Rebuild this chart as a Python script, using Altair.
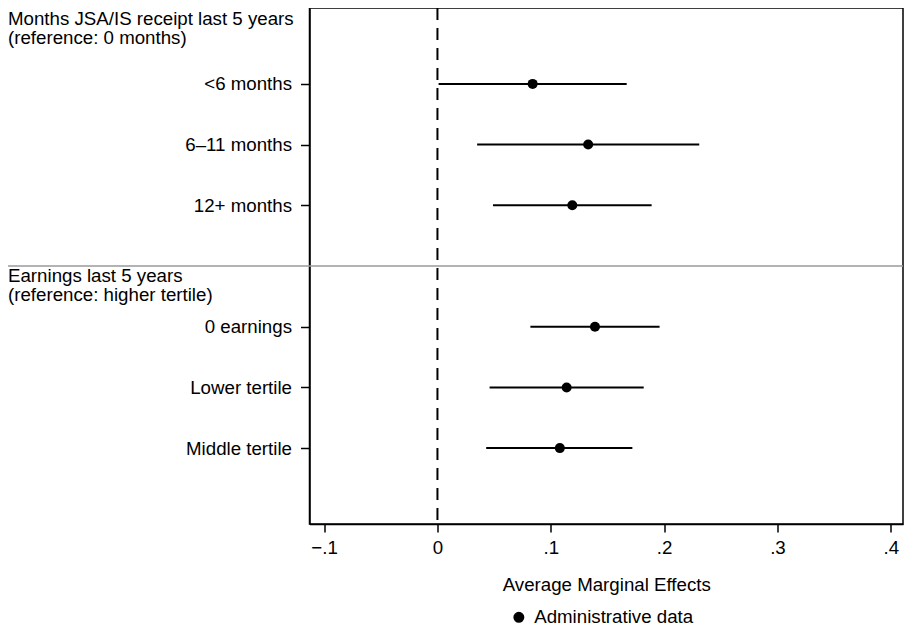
import altair as alt
import pandas as pd

# ---- data ----
categories = ["<6 months", "6\u201311 months", "12+ months", "0 earnings", "Lower tertile", "Middle tertile"]
slots = [1, 2, 3, 5, 6, 7]
estimates = [0.084, 0.133, 0.119, 0.139, 0.114, 0.108]
ci_low = [0.001, 0.035, 0.049, 0.082, 0.046, 0.043]
ci_high = [0.167, 0.231, 0.189, 0.196, 0.182, 0.172]
series_name = "Administrative data"

heading_1 = "Months JSA/IS receipt last 5 years\n(reference: 0 months)"
heading_2 = "Earnings last 5 years\n(reference: higher tertile)"
heading_slots = [0, 4]
separator_slots = [4]

x_ticks = [-0.1, 0, 0.1, 0.2, 0.3, 0.4]
x_tick_labels = ["\u2212.1", "0", ".1", ".2", ".3", ".4"]
x_title = "Average Marginal Effects"

# ---- layout ----
W, H = 593.5, 516
PAD_L = 301.5
FONT = "Liberation Sans"
FS = 18.7

df = pd.DataFrame({
    "label": categories,
    "slot": slots,
    "est": estimates,
    "lo": ci_low,
    "hi": ci_high,
    "series": [series_name] * len(categories),
})

xscale = alt.Scale(domain=[-0.1129, 0.4108], nice=False, zero=False)
yscale = alt.Scale(domain=[-0.25, 8.25], nice=False, zero=False, reverse=True)


def ternary(values, labels):
    expr = "''"
    for v, lab in reversed(list(zip(values, labels))):
        expr = f"abs(datum.value - ({v})) < 1e-6 ? '{lab}' : ({expr})"
    return expr


xaxis = alt.Axis(values=x_ticks, labelExpr=ternary(x_ticks, x_tick_labels), title=x_title,
                 tickSize=8, labelPadding=6, titlePadding=19, grid=False,
                 labelFontSize=FS, titleFontSize=FS, titleFontWeight="normal",
                 domainColor="black", tickColor="black", domainWidth=1.5, tickWidth=1.5,
                 labelColor="black", titleColor="black", labelFont=FONT, titleFont=FONT)
yaxis = alt.Axis(values=slots, labelExpr=ternary(slots, categories), title=None,
                 tickSize=9, labelPadding=9, grid=False, labelFontSize=FS,
                 domainColor="black", tickColor="black", domainWidth=1.5, tickWidth=1.5,
                 labelColor="black", labelFont=FONT)

X = lambda f: alt.X(f, scale=xscale, axis=xaxis, title=x_title)
Y = lambda f: alt.Y(f, scale=yscale, axis=yaxis, title=None)

base = alt.Chart(df)

zero_line = alt.Chart(pd.DataFrame({"z": [0]})).mark_rule(
    color="black", strokeWidth=2, strokeDash=[12, 8]
).encode(x=X("z:Q"))

ci = base.mark_rule(color="black", strokeWidth=2).encode(
    x=X("lo:Q"),
    x2="hi:Q",
    y=Y("slot:Q"),
)

points = base.mark_point(filled=True, size=100, opacity=1, shape="circle").encode(
    x=X("est:Q"),
    y=Y("slot:Q"),
    color=alt.Color("series:N", scale=alt.Scale(range=["black"]),
                    legend=alt.Legend(orient="none", legendX=200, legendY=600, title=None,
                                      labelFontSize=FS, labelFont=FONT, labelColor="black",
                                      symbolType="circle", symbolSize=90,
                                      symbolFillColor="black", symbolStrokeColor="black",
                                      labelOffset=6, padding=0)),
)

separator = alt.Chart(pd.DataFrame({"slot": separator_slots})).mark_rule(
    color="#9a9a9a", strokeWidth=1.5
).encode(
    y=Y("slot:Q"),
    x=alt.value(-PAD_L - 5),
    x2=alt.value(W),
)

head1 = alt.Chart(pd.DataFrame({"t": [heading_1], "slot": [heading_slots[0]]})).mark_text(
    align="left", baseline="alphabetic", lineBreak="\n", lineHeight=19,
    font=FONT, fontSize=FS, color="black", dy=2
).encode(y=Y("slot:Q"), x=alt.value(-PAD_L), text="t:N")

head2 = alt.Chart(pd.DataFrame({"t": [heading_2], "slot": [heading_slots[1]]})).mark_text(
    align="left", baseline="alphabetic", lineBreak="\n", lineHeight=19,
    font=FONT, fontSize=FS, color="black", dy=16.2
).encode(y=Y("slot:Q"), x=alt.value(-PAD_L), text="t:N")

chart = alt.layer(zero_line, separator, ci, points, head1, head2).properties(
    width=W, height=H,
    padding={"left": PAD_L, "top": 0, "right": 1, "bottom": 105},
    autosize=alt.AutoSizeParams(type="none"),
    background="white",
).configure_view(stroke="black", strokeWidth=1.5)

chart.save("out.html", embed_options={"renderer": "svg", "actions": False})
